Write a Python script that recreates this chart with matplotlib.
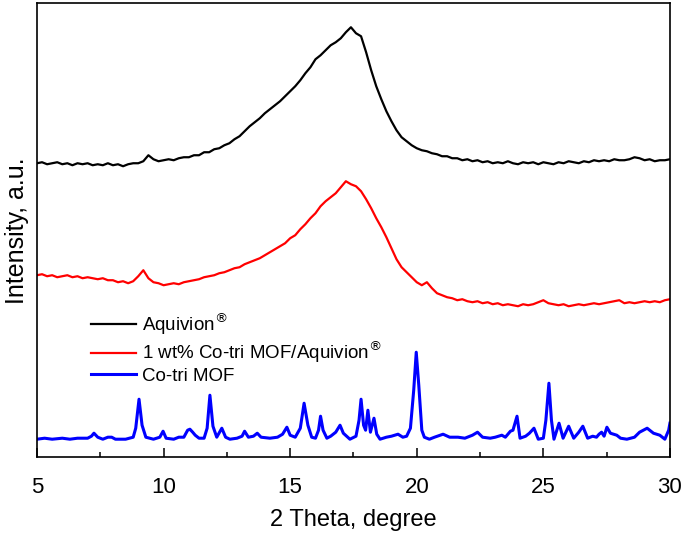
import numpy as np
import matplotlib
matplotlib.use("Agg")
import matplotlib.pyplot as plt

plt.rcParams['font.family'] = ['Liberation Sans', 'DejaVu Sans']

# 2-theta grid (0.2 deg) for the two broad patterns
tth = [round(5.0 + 0.2 * i, 1) for i in range(126)]

aquivion = [294, 295, 293, 294, 295, 293, 294, 292, 294, 293,
            294, 292, 293, 292, 294, 292, 293, 291, 293, 294,
            294, 296, 302, 298, 296, 297, 298, 297, 299, 300,
            300, 302, 302, 305, 305, 308, 309, 312, 314, 318,
            321, 326, 331, 335, 339, 344, 348, 352, 356, 361,
            366, 371, 377, 384, 390, 398, 402, 407, 412, 415,
            419, 425, 430, 424, 421, 405, 387, 371, 358, 346,
            336, 327, 320, 316, 312, 309, 307, 306, 304, 303,
            301, 301, 299, 299, 297, 298, 296, 297, 295, 296,
            294, 295, 294, 296, 294, 293, 295, 294, 295, 293,
            295, 294, 293, 295, 294, 296, 295, 294, 296, 295,
            297, 296, 297, 296, 298, 297, 297, 298, 300, 299,
            297, 298, 296, 297, 297, 298]

composite = [182, 183, 181, 182, 180, 181, 182, 180, 181, 179,
             180, 179, 178, 179, 177, 177, 175, 176, 174, 176,
             181, 187, 179, 175, 174, 172, 173, 174, 173, 175,
             176, 177, 178, 180, 181, 182, 184, 185, 187, 189,
             190, 193, 195, 197, 199, 202, 205, 208, 211, 214,
             219, 222, 228, 233, 239, 244, 251, 256, 260, 264,
             270, 276, 273, 271, 266, 258, 249, 239, 230, 220,
             209, 198, 190, 185, 180, 175, 172, 175, 169, 164,
             162, 160, 159, 157, 158, 156, 155, 156, 154, 155,
             153, 154, 152, 153, 152, 151, 153, 152, 153, 155,
             157, 154, 153, 152, 153, 151, 152, 153, 152, 153,
             154, 153, 154, 155, 156, 157, 154, 155, 154, 155,
             156, 155, 156, 155, 157, 158]

mof_tth = [5.0, 5.3, 5.6, 6.0, 6.3, 6.6, 7.0, 7.15, 7.25, 7.4, 7.6, 7.8, 7.95, 8.1,
           8.5, 8.8, 8.9, 9.03, 9.15, 9.3, 9.6, 9.85, 9.98, 10.1, 10.4, 10.6, 10.8,
           10.95, 11.04, 11.15, 11.25, 11.4, 11.6, 11.72, 11.83, 11.95, 12.1, 12.3,
           12.45, 12.62, 12.9, 13.1, 13.2, 13.35, 13.55, 13.7, 13.85, 14.2, 14.5,
           14.7, 14.87, 15.0, 15.2, 15.4, 15.55, 15.7, 15.85, 16.0, 16.12, 16.2,
           16.3, 16.45, 16.6, 16.8, 16.97, 17.1, 17.36, 17.6, 17.72, 17.8, 17.9,
           17.98, 18.07, 18.17, 18.31, 18.42, 18.55, 18.8, 19.0, 19.26, 19.45, 19.6,
           19.75, 19.88, 19.98, 20.08, 20.2, 20.3, 20.5, 20.7, 21.04, 21.3, 21.63,
           21.9, 22.2, 22.4, 22.6, 22.9, 23.1, 23.36, 23.5, 23.7, 23.8, 23.96, 24.08,
           24.3, 24.45, 24.63, 24.8, 25.0, 25.1, 25.22, 25.32, 25.42, 25.62, 25.78,
           26.0, 26.2, 26.4, 26.56, 26.75, 26.95, 27.1, 27.2, 27.3, 27.4, 27.51,
           27.65, 27.9, 28.05, 28.3, 28.6, 28.8, 29.1, 29.35, 29.6, 29.8, 29.95, 30.0]
mof = [18, 19, 18, 19, 18, 19, 19, 21, 24, 20, 18, 20, 20, 18,
       18, 20, 29, 58, 32, 20, 18, 20, 26, 19, 18, 20, 20,
       27, 28, 25, 22, 19, 19, 29, 62, 31, 20, 29,
       20, 18, 19, 21, 26, 20, 21, 24, 20, 19, 20,
       23, 30, 22, 20, 29, 54, 32, 20, 19, 27, 41,
       27, 19, 21, 25, 32, 24, 18, 21, 37, 58, 32,
       27, 47, 25, 39, 23, 18, 20, 21, 23, 20, 21,
       29, 67, 105, 72, 27, 20, 18, 20, 23, 20, 20,
       19, 22, 25, 20, 19, 20, 22, 20, 26, 27, 41, 19,
       21, 24, 29, 18, 19, 37, 74, 37, 18, 34, 19,
       31, 19, 25, 31, 19, 21, 20, 23, 25, 21, 30,
       24, 22, 19, 18, 20, 25, 29, 24, 22, 18, 27, 34]

labels = ["Aquivion$^{®}$", "1 wt% Co-tri MOF/Aquivion$^{®}$", "Co-tri MOF"]
xticks = [5, 10, 15, 20, 25, 30]

fig = plt.figure(figsize=(6.85, 5.43), dpi=100)
ax = fig.add_axes([0.054, 0.158, 0.924, 0.836])

ax.plot(tth, aquivion, color='black', lw=1.6, label=labels[0])
ax.plot(tth, composite, color='#ff0000', lw=1.6, label=labels[1])
ax.plot(mof_tth, mof, color='#0000ff', lw=2.2, label=labels[2])

ax.set_xlim(5, 30)
ax.set_ylim(0, 454)
ax.set_xticks(xticks)
ax.set_xticks([7.5, 12.5, 17.5, 22.5, 27.5], minor=True)
ax.set_yticks([])
ax.tick_params(axis='x', which='major', direction='in', length=6.5, width=1.1,
               labelsize=16, pad=14)
ax.tick_params(axis='x', which='minor', direction='in', length=3.5, width=1.1)
for s in ax.spines.values():
    s.set_linewidth(1.2)

ax.set_xlabel("2 Theta, degree", fontsize=17, labelpad=8)
ax.set_ylabel("Intensity, a.u.", fontsize=18, labelpad=6)

ax.legend(loc='upper left', bbox_to_anchor=(0.074, 0.339), frameon=False,
          fontsize=13.5, handlelength=2.4, handletextpad=0.3, labelspacing=0.12,
          borderaxespad=0)

fig.savefig("out.png", dpi=100)
